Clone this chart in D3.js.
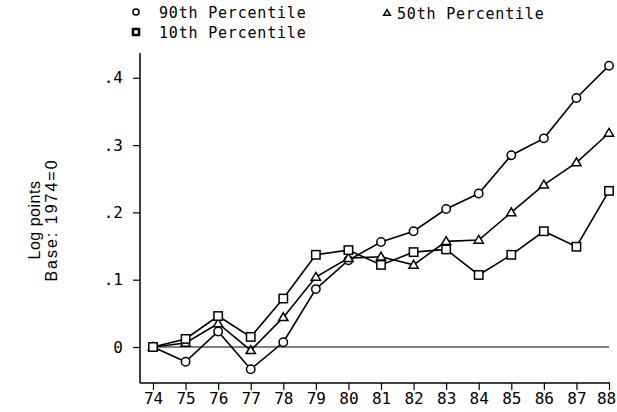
<!DOCTYPE html>
<html><head><meta charset="utf-8">
<script src="https://cdn.jsdelivr.net/npm/d3@7"></script>
<style>
body{margin:0;background:#fff;}
svg text{font-family:"DejaVu Sans Mono",monospace;fill:#000;}
</style></head>
<body><svg id="c" width="617" height="412"></svg>
<script>
const years = ["74","75","76","77","78","79","80","81","82","83","84","85","86","87","88"];
const p90 = [0,-0.022,0.023,-0.033,0.007,0.086,0.129,0.156,0.172,0.205,0.228,0.285,0.310,0.370,0.418];
const p50 = [0,0.006,0.035,-0.005,0.044,0.104,0.132,0.134,0.122,0.157,0.159,0.200,0.241,0.274,0.318];
const p10 = [0,0.012,0.046,0.015,0.072,0.137,0.144,0.122,0.141,0.145,0.107,0.137,0.172,0.149,0.232];
const yTicks = [0,0.1,0.2,0.3,0.4];
const yTickLabels = ["0",".1",".2",".3",".4"];
const seriesNames = ["90th Percentile","50th Percentile","10th Percentile"];
const yTitle = ["Log points","Base: 1974=0"];

const svg = d3.select("#c");
const x = d3.scalePoint().domain(years).range([153,609]);
const y = d3.scaleLinear().domain([0,0.4]).range([347,77.8]);
const axisX = 140, axisY = 383, topY = 53, rightX = 610;

// axis lines
svg.append("line").attr("x1",axisX).attr("x2",axisX).attr("y1",topY).attr("y2",axisY)
  .attr("stroke","#000").attr("stroke-width",1.5);
svg.append("line").attr("x1",axisX).attr("x2",rightX).attr("y1",axisY).attr("y2",axisY)
  .attr("stroke","#000").attr("stroke-width",1.5);

const gy = svg.append("g").attr("transform",`translate(${axisX},0)`)
  .call(d3.axisLeft(y).tickValues(yTicks).tickFormat((d,i)=>yTickLabels[i]).tickSize(7).tickPadding(10));
gy.select(".domain").remove();
gy.selectAll("line").attr("stroke","#000").attr("stroke-width",1.2);
gy.selectAll("text").attr("font-size",16).style("font-family","DejaVu Sans Mono");

const gx = svg.append("g").attr("transform",`translate(0,${axisY})`)
  .call(d3.axisBottom(x).tickSize(7).tickPadding(3));
gx.select(".domain").remove();
gx.selectAll("line").attr("stroke","#000").attr("stroke-width",1.2);
gx.selectAll("text").attr("font-size",16).style("font-family","DejaVu Sans Mono")
  .attr("dx",(d,i)=> i===years.length-1 ? -3 : 0);

// zero line
svg.append("line").attr("x1",x("74")).attr("x2",x("88")).attr("y1",y(0)).attr("y2",y(0))
  .attr("stroke","#000").attr("stroke-width",1.2);

// y title
yTitle.forEach((t,i)=>{
  svg.append("text").attr("transform",`translate(${40+i*17},220) rotate(-90)`)
    .attr("text-anchor","middle").attr("font-size",16).attr("letter-spacing",i===0?0.5:2)
    .style("font-family","'Liberation Sans', Arial, sans-serif").text(t);
});

const line = d3.line().x((d,i)=>x(years[i])).y(d=>y(d));
const data = [p90,p50,p10];
const shapes = ["circle","triangle","square"];

function marker(g, shape, cx, cy, s, sw){
  if(shape==="circle"){
    g.append("circle").attr("cx",cx).attr("cy",cy).attr("r",s)
      .attr("fill","#fff").attr("stroke","#000").attr("stroke-width",sw);
  } else if(shape==="square"){
    g.append("rect").attr("x",cx-s).attr("y",cy-s).attr("width",2*s).attr("height",2*s)
      .attr("fill","#fff").attr("stroke","#000").attr("stroke-width",sw);
  } else {
    const h = s*1.1;
    g.append("path").attr("d",`M${cx},${cy-h}L${cx+s*1.1},${cy+h*0.7}L${cx-s*1.1},${cy+h*0.7}Z`)
      .attr("fill","#fff").attr("stroke","#000").attr("stroke-width",sw);
  }
}

data.forEach((vals,k)=>{
  svg.append("path").attr("d",line(vals)).attr("fill","none")
    .attr("stroke","#000").attr("stroke-width",1.6);
});
data.forEach((vals,k)=>{
  const g = svg.append("g");
  vals.forEach((v,i)=>marker(g,shapes[k],x(years[i]),y(v),4.2,1.5));
});

// legend
const leg = [{s:"circle",x:136,y:12,tx:159,t:seriesNames[0]},
             {s:"triangle",x:387,y:13,tx:397,t:seriesNames[1]},
             {s:"square",x:136,y:32,tx:159,t:seriesNames[2]}];
leg.forEach(l=>{
  const g = svg.append("g");
  marker(g,l.s,l.x,l.y,3,l.s==="square"?2.5:1.5);
  svg.append("text").attr("x",l.tx).attr("y",l.y+6).attr("font-size",15)
    .attr("letter-spacing",0.8).text(l.t);
});
</script></body></html>
